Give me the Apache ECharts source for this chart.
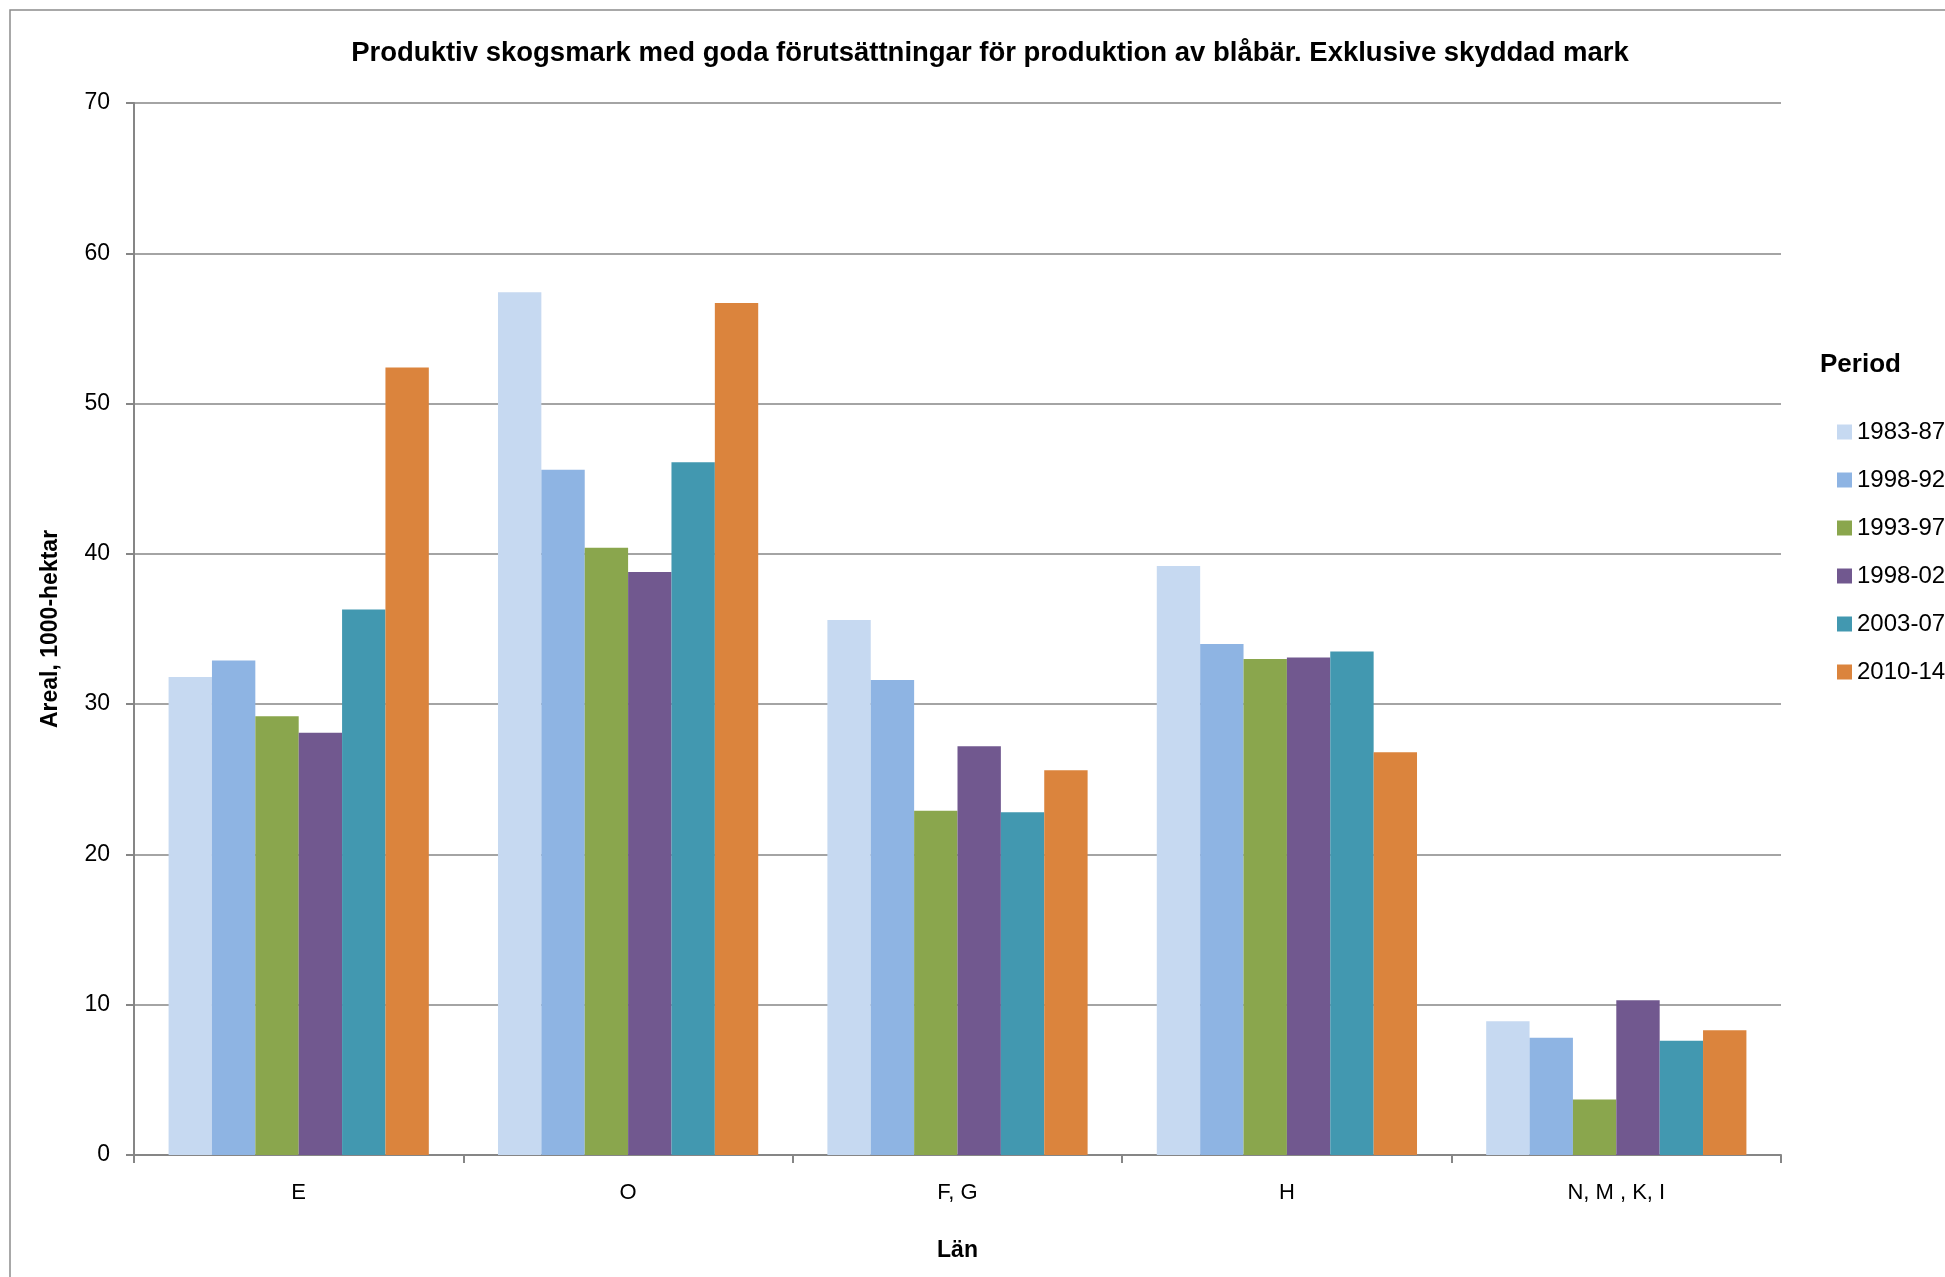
<!DOCTYPE html>
<html>
<head>
<meta charset="utf-8">
<script src="https://cdn.jsdelivr.net/npm/echarts@6/dist/echarts.min.js"></script>
<style>html,body{margin:0;padding:0;background:#fff}#c{width:1945px;height:1277px}</style>
</head>
<body>
<div id="c"></div>
<script>
var categories = ['E', 'O', 'F, G', 'H', 'N, M , K, I'];
var periods = ['1983-87', '1998-92', '1993-97', '1998-02', '2003-07', '2010-14'];
var v1983_87 = [31.8, 57.4, 35.6, 39.2, 8.9];
var v1998_92 = [32.9, 45.6, 31.6, 34.0, 7.8];
var v1993_97 = [29.2, 40.4, 22.9, 33.0, 3.7];
var v1998_02 = [28.1, 38.8, 27.2, 33.1, 10.3];
var v2003_07 = [36.3, 46.1, 22.8, 33.5, 7.6];
var v2010_14 = [52.4, 56.7, 25.6, 26.8, 8.3];
var yTicks = [0, 10, 20, 30, 40, 50, 60, 70];

var colors = ['#C6D9F1', '#8EB4E3', '#8AA64D', '#71588F', '#4298B0', '#DB843D'];
var values = [v1983_87, v1998_92, v1993_97, v1998_02, v2003_07, v2010_14];
var FONT = 'Liberation Sans';

var chart = echarts.init(document.getElementById('c'), null, {renderer: 'canvas'});
var series = periods.map(function (p, i) {
  return {
    name: p,
    type: 'bar',
    data: values[i],
    barGap: '0%',
    barCategoryGap: '21%',
    itemStyle: {color: colors[i]},
    animation: false
  };
});

chart.setOption({
  backgroundColor: '#fff',
  animation: false,
  textStyle: {fontFamily: FONT},
  graphic: [{
    type: 'rect',
    shape: {x: 10, y: 10, width: 1960, height: 1300},
    style: {fill: null, stroke: '#8c8c8c', lineWidth: 1.5},
    silent: true,
    z: -1
  }],
  title: [{
    text: 'Produktiv skogsmark med goda förutsättningar för produktion av blåbär. Exklusive skyddad mark',
    left: 985, top: 34, textAlign: 'center',
    textStyle: {fontFamily: FONT, fontWeight: 'bold', fontSize: 27.5, color: '#000'}
  }, {
    text: 'Period',
    left: 1815, top: 347,
    textStyle: {fontFamily: FONT, fontWeight: 'bold', fontSize: 26, color: '#000'}
  }],
  legend: {
    data: periods,
    orient: 'vertical',
    left: 1832, top: 415,
    itemWidth: 15, itemHeight: 15,
    itemGap: 24,
    icon: 'rect',
    textStyle: {fontFamily: FONT, fontSize: 24, color: '#000', lineHeight: 24}
  },
  grid: {left: 134, right: 164, top: 103, bottom: 122, containLabel: false},
  xAxis: {
    type: 'category',
    data: categories,
    name: 'Län',
    nameLocation: 'middle',
    nameGap: 84,
    nameTextStyle: {fontFamily: FONT, fontWeight: 'bold', fontSize: 23, color: '#000'},
    axisLine: {lineStyle: {color: '#868686', width: 2}},
    axisTick: {show: true, alignWithLabel: false, length: 8, lineStyle: {color: '#868686', width: 2}},
    axisLabel: {fontFamily: FONT, fontSize: 22, color: '#000', margin: 27},
    splitLine: {show: false}
  },
  yAxis: {
    type: 'value',
    min: yTicks[0], max: yTicks[yTicks.length - 1], interval: 10,
    name: 'Areal, 1000-hektar',
    nameLocation: 'middle',
    nameGap: 72,
    nameRotate: 90,
    nameTextStyle: {fontFamily: FONT, fontWeight: 'bold', fontSize: 23, color: '#000'},
    axisLine: {show: true, lineStyle: {color: '#868686', width: 2}},
    axisTick: {show: true, length: 8, lineStyle: {color: '#868686', width: 2}},
    axisLabel: {fontFamily: FONT, fontSize: 23, color: '#000', margin: 24},
    splitLine: {show: true, lineStyle: {color: '#868686', width: 1.5}}
  },
  series: series
});
</script>
</body>
</html>
